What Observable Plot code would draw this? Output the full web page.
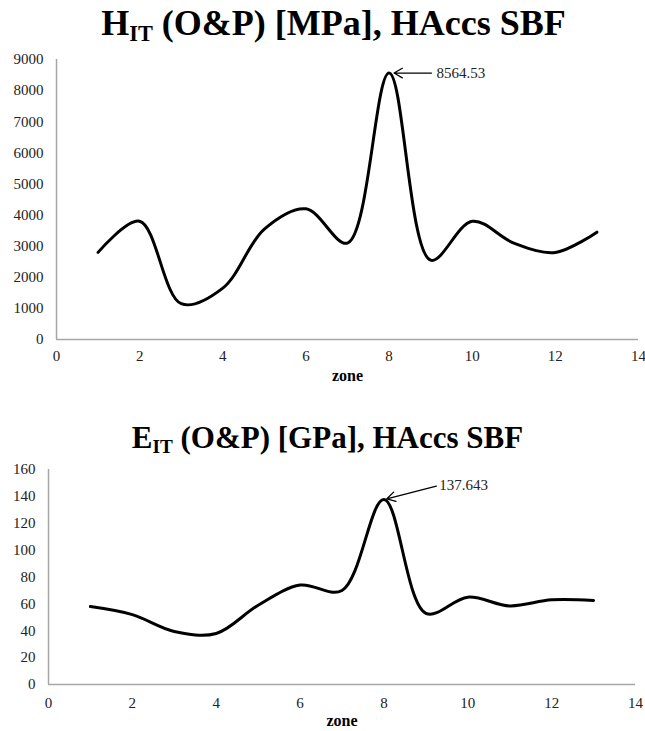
<!DOCTYPE html>
<html><head><meta charset="utf-8">
<script src="https://cdn.jsdelivr.net/npm/d3@7"></script>
<script src="https://cdn.jsdelivr.net/npm/@observablehq/plot@0.6"></script>
<style>
body{margin:0;background:#fff;width:645px;overflow:hidden;}
.title{font-family:"Liberation Serif","Tinos","DejaVu Serif",serif;font-weight:bold;text-align:center;color:#000;box-sizing:border-box;white-space:nowrap;}
.title .sub{position:relative;top:0.28em;font-size:0.62em;}
svg{display:block;}
</style></head><body>
<div id="t1" class="title" style="height:50px;padding-top:5px;padding-left:22px;line-height:36px;font-size:36px">H<span class="sub">IT</span> (O&amp;P) [MPa], HAccs SBF</div>
<div id="c1"></div>
<div id="t2" class="title" style="height:65px;padding-top:27px;padding-left:10px;line-height:31px;font-size:31px">E<span class="sub">IT</span> (O&amp;P) [GPa], HAccs SBF</div>
<div id="c2"></div>
<script>
const zones = [1,2,3,4,5,6,7,8,9,10,11,12,13];
const hitValues = [2800, 3800, 1150, 1650, 3550, 4200, 3100, 8564.53, 2550, 3800, 3100, 2800, 3450];
const eitValues = [58, 52, 39.5, 38, 59, 74, 70, 137.643, 53, 65, 58.5, 63, 62.5];
const xTicks = [0,2,4,6,8,10,12,14];
const hitTicks = [0,1000,2000,3000,4000,5000,6000,7000,8000,9000];
const eitTicks = [0,20,40,60,80,100,120,140,160];
const xLabel = "zone";
const hitPeakLabel = "8564.53";
const eitPeakLabel = "137.643";

const hitData = zones.map((z,i)=>({zone:z, v:hitValues[i]}));
const eitData = zones.map((z,i)=>({zone:z, v:eitValues[i]}));

const serif = '"Liberation Serif","Tinos","DejaVu Serif",serif';

function peakOf(data){ return data.reduce((a,b)=> b.v > a.v ? b : a); }

function chart(data, yTicks, peakLabel, opts){
  const peak = peakOf(data);
  const ann = [{x1: peak.zone + opts.ax, y1: peak.v + opts.ay*(yTicks[yTicks.length-1]), x2: peak.zone, y2: peak.v, label: peakLabel}];
  return Plot.plot({
    width: 645, height: opts.height,
    marginLeft: opts.ml, marginRight: opts.mr, marginTop: 9, marginBottom: opts.mb,
    style: {fontFamily: serif, fontSize: "15px", color: "#222", background: "#fff"},
    x: {domain: [xTicks[0], xTicks[xTicks.length-1]]},
    y: {domain: [yTicks[0], yTicks[yTicks.length-1]]},
    marks: [
      Plot.axisY({ticks: yTicks, tickSize: 0, tickPadding: 13, label: null, tickFormat: d => String(d), fontFamily: serif}),
      Plot.axisX({ticks: xTicks, tickSize: 0, tickPadding: opts.xpad, label: null, tickFormat: d => String(d), fontFamily: serif}),
      Plot.ruleX([xTicks[0]], {stroke: "#a6a6a6", strokeWidth: 1.5}),
      Plot.ruleY([yTicks[0]], {stroke: "#a6a6a6", strokeWidth: 1.5}),
      Plot.line(data, {x: "zone", y: "v", curve: "catmull-rom", stroke: "#000", strokeWidth: 3}),
      Plot.arrow(ann, {x1: "x1", y1: "y1", x2: "x2", y2: "y2", stroke: "#000", strokeWidth: 1.3, headLength: 11, insetEnd: opts.inset}),
      Plot.text(ann, {x: "x1", y: "y1", text: "label", textAnchor: "start", dx: opts.tdx, dy: opts.tdy, fontSize: 15, fill: "#222", fontFamily: serif}),
      Plot.text([xLabel], {frameAnchor: "bottom", dy: opts.zdy, fontWeight: "bold", fontSize: 16, fill: "#000", fontFamily: serif, style: {letterSpacing: "1px"}})
    ]
  });
}

document.getElementById("c1").append(chart(hitData, hitTicks, hitPeakLabel, {height: 345, ml: 56, mr: 7, mb: 56, xpad: 11, ax: 1.02, ay: 0, inset: 5, tdx: 5, tdy: 0, zdy: 41}));
document.getElementById("c2").append(chart(eitData, eitTicks, eitPeakLabel, {height: 271, ml: 48, mr: 10, mb: 47, xpad: 13, ax: 1.25, ay: 0.0625, inset: 3, tdx: 3, tdy: -1, zdy: 41}));
</script>
</body></html>
